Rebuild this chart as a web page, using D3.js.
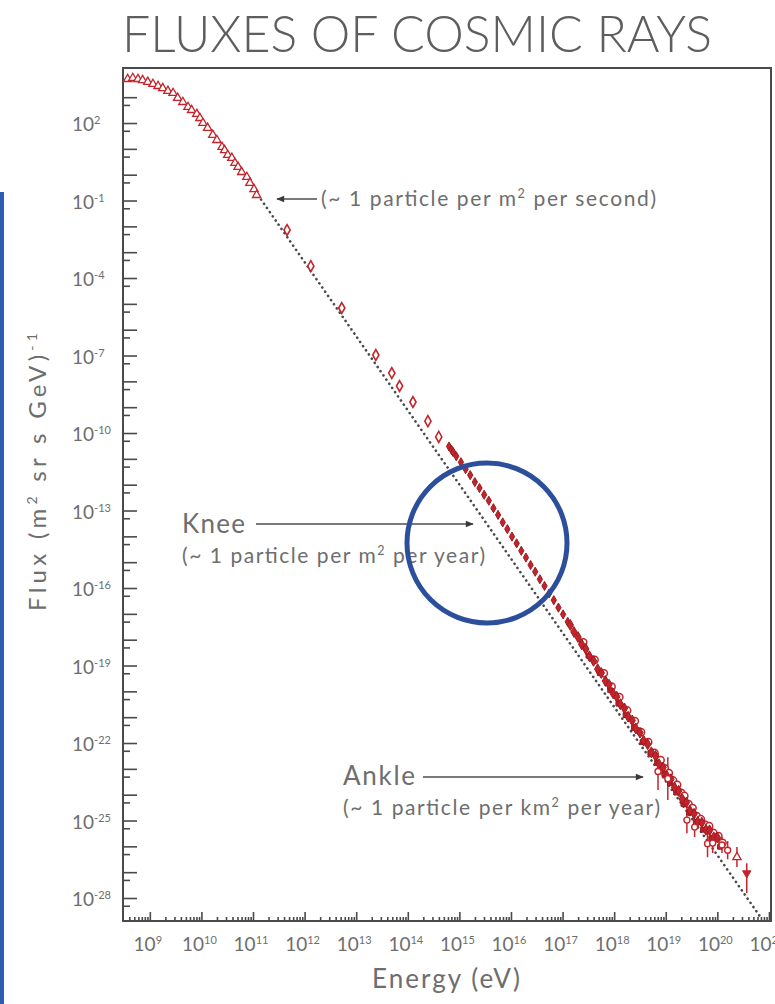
<!DOCTYPE html>
<html>
<head>
<meta charset="utf-8">
<script src="https://cdn.jsdelivr.net/npm/d3@7"></script>
<style>
  body { margin: 0; background: #fff; }
  svg text { font-family: Lato, "Open Sans", sans-serif; fill: #6e6e6e; }
</style>
</head>
<body>
<svg id="chart" width="775" height="1004"></svg>
<script>
// all values are log10(energy / eV) and log10(flux / (m2 sr s GeV)^-1)

// low energy open triangles
const triLogE = [8.57, 8.67, 8.77, 8.86, 8.96, 9.06, 9.16, 9.25, 9.35, 9.45, 9.54, 9.64, 9.74, 9.81, 9.91, 9.97, 10.03, 10.12, 10.22, 10.30, 10.40, 10.45, 10.51, 10.59, 10.65, 10.71, 10.78, 10.88, 10.94, 11.02, 11.07];
const triLogF = [3.70, 3.74, 3.70, 3.66, 3.59, 3.51, 3.43, 3.35, 3.24, 3.16, 2.97, 2.81, 2.62, 2.50, 2.35, 2.19, 2.00, 1.81, 1.54, 1.34, 1.07, 0.95, 0.76, 0.65, 0.45, 0.30, 0.10, -0.09, -0.32, -0.56, -0.79];

// open diamonds
const diaLogE = [11.66, 12.12, 12.72, 13.38, 13.69, 13.84, 14.10, 14.39, 14.60];
const diaLogF = [-2.14, -3.54, -5.16, -6.98, -7.68, -8.18, -8.80, -9.54, -10.15];

// knee region, filled diamonds
const kneeLogE = [14.80, 14.85, 14.88, 14.94, 15.03, 15.12, 15.21, 15.30, 15.39, 15.48, 15.57, 15.66, 15.75, 15.84, 15.93, 16.02, 16.11, 16.20, 16.29, 16.38, 16.47, 16.56, 16.65, 16.74, 16.83, 16.92, 17.01, 17.10];
const kneeLogF = [-10.52, -10.66, -10.74, -10.90, -11.13, -11.40, -11.63, -11.90, -12.13, -12.39, -12.62, -12.91, -13.17, -13.46, -13.72, -14.01, -14.27, -14.56, -14.82, -15.11, -15.37, -15.66, -15.92, -16.21, -16.47, -16.76, -17.02, -17.31];

// ankle region, filled markers
const ankLogE = [17.15, 17.22, 17.30, 17.37, 17.45, 17.52, 17.60, 17.68, 17.75, 17.83, 17.90, 17.98, 18.05, 18.12, 18.20, 18.27, 18.35, 18.42, 18.50, 18.57, 18.65, 18.72, 18.80, 18.87, 18.95, 19.02, 19.10, 19.17, 19.25, 19.32, 19.40, 19.47, 19.55, 19.62, 19.70, 19.78, 19.85, 19.93, 20.00];
const ankLogF = [-17.43, -17.70, -17.90, -18.18, -18.36, -18.64, -18.82, -19.14, -19.29, -19.60, -19.74, -20.08, -20.21, -20.50, -20.66, -20.98, -21.13, -21.44, -21.60, -21.91, -22.05, -22.36, -22.50, -22.82, -22.95, -23.27, -23.40, -23.72, -23.85, -24.17, -24.30, -24.62, -24.74, -25.05, -25.08, -25.36, -25.38, -25.65, -25.66];

// ankle region, second set of filled markers (slightly lower)
const ank2LogE = [17.50, 17.72, 17.92, 18.08, 18.22, 18.38, 18.55, 18.70, 18.83, 18.97, 19.08, 19.20, 19.34, 19.45, 19.58, 19.72, 19.88, 20.05];
const ank2LogF = [-18.62, -19.30, -19.95, -20.48, -20.92, -21.42, -21.96, -22.38, -22.77, -23.20, -23.56, -23.92, -24.36, -24.70, -25.07, -25.36, -25.70, -26.02];

// ankle region, open circles
const circLogE = [17.40, 17.62, 17.80, 17.95, 18.10, 18.25, 18.40, 18.52, 18.66, 18.78, 18.90, 18.98, 19.06, 19.14, 19.22, 19.30, 19.36, 19.44, 19.52, 19.60, 19.68, 19.76, 19.84, 19.92, 20.02, 20.10];
const circLogF = [-18.10, -18.78, -19.30, -19.82, -20.22, -20.74, -21.15, -21.58, -21.96, -22.38, -22.66, -22.98, -23.16, -23.45, -23.62, -23.93, -24.05, -24.36, -24.52, -24.83, -24.95, -25.16, -25.22, -25.48, -25.60, -25.86];

// error bars at the highest energies
const errLogE = [18.85, 19.04, 19.41, 19.56, 19.81, 19.91, 20.09, 20.20];
const errLo = [-23.82, -24.21, -25.49, -25.64, -26.42, -26.26, -26.26, -26.50];
const errHi = [-22.39, -22.55, -24.48, -24.87, -25.37, -25.49, -25.64, -25.80];

// last two points
const endLogE = [20.38, 20.57];
const endLogF = [-26.42, -27.04];
const endLo = [-26.80, -27.81];
const endHi = [-26.03, -26.65];

// dotted power law guide
const guideLogE = [11.1, 20.85];
const guideLogF = [-0.8, -28.78];

const yLabelExps = [2, -1, -4, -7, -10, -13, -16, -19, -22, -25, -28];
const xLabelExps = [9, 10, 11, 12, 13, 14, 15, 16, 17, 18, 19, 20, 21];

const red = "#c3242b";
const svg = d3.select("#chart");

const x = d3.scaleLog().domain([10 ** 8.48, 10 ** 21.04]).range([123, 771]);
const y = d3.scaleLog().domain([10 ** 4.13, 10 ** -28.89]).range([68, 921]);
const px = e => x(10 ** e);
const py = f => y(10 ** f);

// title
svg.append("text")
  .attr("x", 417).attr("y", 52)
  .attr("text-anchor", "middle")
  .attr("textLength", 590).attr("lengthAdjust", "spacingAndGlyphs")
  .style("font-size", "51px").style("font-weight", 300).style("fill", "#5e5e5e")
  .text("FLUXES OF COSMIC RAYS");

// ticks
const yMajor = d3.range(3, -29, -1).map(k => 10 ** k);
const yMinor = d3.range(3, -29, -1).map(k => 10 ** (k - 0.3));
const xMajor = d3.range(9, 22).map(k => 10 ** k);
const xMinor = [];
d3.range(8, 21).forEach(k => d3.range(2, 10).forEach(m => {
  const v = m * 10 ** k;
  if (v > x.domain()[0] && v < x.domain()[1]) xMinor.push(v);
}));

function tickAxis(axis) {
  return g => { g.call(axis); g.select(".domain").remove(); g.selectAll("line").attr("stroke", "#4a4a4a").attr("stroke-width", 1.6); };
}
svg.append("g").attr("transform", "translate(123,0)")
  .call(tickAxis(d3.axisLeft(y).tickValues(yMajor).tickSize(-14).tickFormat("")));
svg.append("g").attr("transform", "translate(123,0)")
  .call(tickAxis(d3.axisLeft(y).tickValues(yMinor).tickSize(-7).tickFormat("")));
svg.append("g").attr("transform", "translate(0,921)")
  .call(tickAxis(d3.axisBottom(x).tickValues(xMajor).tickSize(-9).tickFormat("")));
svg.append("g").attr("transform", "translate(0,921)")
  .call(tickAxis(d3.axisBottom(x).tickValues(xMinor).tickSize(-4).tickFormat("")));

// frame
svg.append("rect")
  .attr("x", x.range()[0]).attr("y", y.range()[0])
  .attr("width", x.range()[1] - x.range()[0]).attr("height", y.range()[1] - y.range()[0])
  .attr("fill", "none").attr("stroke", "#4a4a4a").attr("stroke-width", 2);

// y tick labels
yLabelExps.forEach(k => {
  const t = svg.append("text").attr("x", 72).attr("y", py(k) + 8).style("font-size", "19px");
  t.append("tspan").text("10");
  t.append("tspan").attr("dy", -7).style("font-size", "11px").text(k);
});
// x tick labels
xLabelExps.forEach(k => {
  const t = svg.append("text").attr("x", px(k) - 2).attr("y", 951).attr("text-anchor", "middle").style("font-size", "19px");
  t.append("tspan").text("10");
  t.append("tspan").attr("dy", -7).style("font-size", "11px").text(k);
});

// axis titles
svg.append("text").attr("x", 446).attr("y", 988).attr("text-anchor", "middle")
  .attr("textLength", 148).attr("lengthAdjust", "spacing")
  .style("font-size", "26px").text("Energy (eV)");
const yt = svg.append("text").attr("transform", "translate(46,472) rotate(-90)")
  .attr("text-anchor", "middle").attr("textLength", 278).attr("lengthAdjust", "spacing")
  .style("font-size", "24px");
yt.append("tspan").text("Flux (m");
yt.append("tspan").attr("dy", -9).style("font-size", "14px").text("2");
yt.append("tspan").attr("dy", 9).text(" sr s GeV)");
yt.append("tspan").attr("dy", -9).style("font-size", "14px").text("-1");

// guide line
svg.append("path")
  .datum(d3.zip(guideLogE, guideLogF))
  .attr("d", d3.line().x(d => px(d[0])).y(d => py(d[1])))
  .attr("fill", "none").attr("stroke", "#4a4a4a").attr("stroke-width", 2.6)
  .attr("stroke-linecap", "round").attr("stroke-dasharray", "0.1,5");

// error bars
const bars = d3.zip(errLogE.concat(endLogE), errLo.concat(endLo), errHi.concat(endHi));
svg.append("g").selectAll("line").data(bars).join("line")
  .attr("x1", d => px(d[0])).attr("x2", d => px(d[0]))
  .attr("y1", d => py(d[1])).attr("y2", d => py(d[2]))
  .attr("stroke", red).attr("stroke-width", 1.5);

const tri = d3.symbol(d3.symbolTriangle, 30);
const dia = d3.symbol(d3.symbolDiamond, 34);
const smallDia = d3.symbol(d3.symbolDiamond, 24);
const ankDia = d3.symbol(d3.symbolDiamond, 34);
const ankSq = d3.symbol(d3.symbolSquare, 22);

svg.append("g").selectAll("path").data(d3.zip(triLogE, triLogF)).join("path")
  .attr("d", tri).attr("transform", d => `translate(${px(d[0])},${py(d[1])})`)
  .attr("fill", "#fff").attr("stroke", red).attr("stroke-width", 1.3);

svg.append("g").selectAll("path").data(d3.zip(diaLogE, diaLogF)).join("path")
  .attr("d", dia).attr("transform", d => `translate(${px(d[0])},${py(d[1])})`)
  .attr("fill", "#fff").attr("stroke", red).attr("stroke-width", 1.6);

svg.append("g").selectAll("path").data(d3.zip(kneeLogE, kneeLogF)).join("path")
  .attr("d", smallDia).attr("transform", d => `translate(${px(d[0])},${py(d[1])})`)
  .attr("fill", red).attr("stroke", "#9e1a20").attr("stroke-width", 1);

svg.append("g").selectAll("circle").data(d3.zip(circLogE, circLogF)).join("circle")
  .attr("cx", d => px(d[0])).attr("cy", d => py(d[1])).attr("r", 3.6)
  .attr("fill", "#fff").attr("stroke", red).attr("stroke-width", 1.5);

svg.append("g").selectAll("path").data(d3.zip(ank2LogE, ank2LogF)).join("path")
  .attr("d", ankSq).attr("transform", d => `translate(${px(d[0])},${py(d[1])})`)
  .attr("fill", red).attr("stroke", "#9e1a20").attr("stroke-width", 1);

svg.append("g").selectAll("path").data(d3.zip(ankLogE, ankLogF)).join("path")
  .attr("d", ankDia).attr("transform", d => `translate(${px(d[0])},${py(d[1])})`)
  .attr("fill", red).attr("stroke", "#9e1a20").attr("stroke-width", 1);

svg.append("g").selectAll("circle").data(d3.zip(errLogE, errLo, errHi)).join("circle")
  .attr("cx", d => px(d[0])).attr("cy", d => py((d[1] + d[2]) / 2)).attr("r", 3)
  .attr("fill", "#fff").attr("stroke", red).attr("stroke-width", 1.4);

// last two points: open triangle, filled down triangle
svg.append("path").attr("d", tri)
  .attr("transform", `translate(${px(endLogE[0])},${py(endLogF[0])})`)
  .attr("fill", "#fff").attr("stroke", red).attr("stroke-width", 1.3);
svg.append("path").attr("d", tri)
  .attr("transform", `translate(${px(endLogE[1])},${py(endLogF[1])}) rotate(180)`)
  .attr("fill", red).attr("stroke", red);

// annotations
svg.append("defs").append("marker")
  .attr("id", "head").attr("viewBox", "0 0 10 10").attr("refX", 9).attr("refY", 5)
  .attr("markerWidth", 10).attr("markerHeight", 8).attr("markerUnits", "userSpaceOnUse")
  .attr("orient", "auto")
  .append("path").attr("d", "M0,1 L10,5 L0,9 Z").attr("fill", "#3a3a3a");

function arrow(x1, x2, yy) {
  svg.append("line").attr("x1", x1).attr("x2", x2).attr("y1", yy).attr("y2", yy)
    .attr("stroke", "#7a7a7a").attr("stroke-width", 1.8).attr("marker-end", "url(#head)");
}
function supText(xx, yy, size, len, parts) {
  const t = svg.append("text").attr("x", xx).attr("y", yy).style("font-size", size + "px")
    .attr("textLength", len).attr("lengthAdjust", "spacing");
  parts.forEach(p => {
    if (p.sup) { t.append("tspan").attr("dy", -8).style("font-size", (size * 0.6) + "px").text(p.sup); t.append("tspan").attr("dy", 8).text(p.after); }
    else t.append("tspan").text(p.txt);
  });
  return t;
}

arrow(317, 277, 199);
supText(321, 206, 21, 335, [{ txt: "(~ 1 particle per m" }, { sup: "2", after: " per second)" }]);

svg.append("text").attr("x", 182).attr("y", 533).style("font-size", "26px")
  .attr("textLength", 63).attr("lengthAdjust", "spacing").text("Knee");
arrow(256, 473, 524);
supText(182, 563, 21, 303, [{ txt: "(~ 1 particle per m" }, { sup: "2", after: " per year)" }]);

svg.append("text").attr("x", 343).attr("y", 785).style("font-size", "26px")
  .attr("textLength", 72).attr("lengthAdjust", "spacing").text("Ankle");
arrow(423, 643, 777);
supText(343, 815, 21, 317, [{ txt: "(~ 1 particle per km" }, { sup: "2", after: " per year)" }]);

// blue overlay marks from the slide
svg.append("rect").attr("x", 0).attr("y", 192).attr("width", 4).attr("height", 812).attr("fill", "#2f5cb0");
svg.append("circle").attr("cx", 487).attr("cy", 543).attr("r", 80)
  .attr("fill", "none").attr("stroke", "#2c4f9c").attr("stroke-width", 5);
</script>
</body>
</html>
